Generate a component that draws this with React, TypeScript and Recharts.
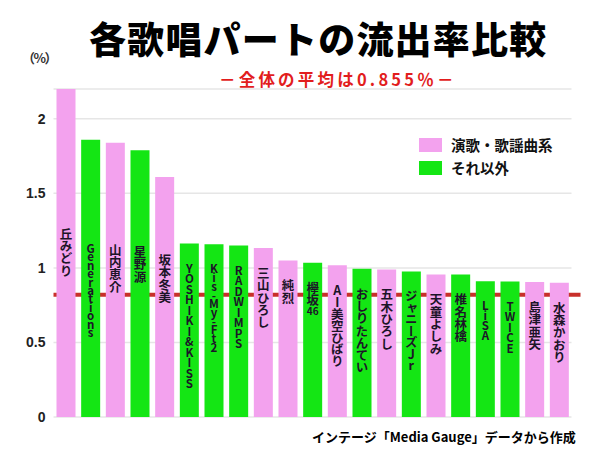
import React from 'react';
import { BarChart, Bar, XAxis, YAxis, CartesianGrid, ReferenceLine, Cell, LabelList } from 'recharts';

const artists = ['丘みどり', 'Generations', '山内恵介', '星野源', '坂本冬美', 'YOSHIKI&KISS', 'Kis-My-Ft2', 'RADWIMPS', '三山ひろし', '純烈', '欅坂46', 'AI美空ひばり', 'おしりたんてい', '五木ひろし', 'ジャニーズJr', '天童よしみ', '椎名林檎', 'LiSA', 'TWICE', '島津亜矢', '水森かおり'];
const rates = [2.2, 1.86, 1.84, 1.79, 1.61, 1.163, 1.158, 1.15, 1.133, 1.05, 1.035, 1.017, 0.995, 0.99, 0.976, 0.956, 0.956, 0.911, 0.909, 0.905, 0.9];
const genres = ['enka', 'other', 'enka', 'other', 'enka', 'other', 'other', 'other', 'enka', 'enka', 'other', 'enka', 'other', 'enka', 'other', 'enka', 'other', 'other', 'other', 'enka', 'enka'];
const yTicks = [0, 0.5, 1, 1.5, 2];
const averageLineValue = 0.82;
const legendKeys = ['enka', 'other'];
const legendLabels = ['演歌・歌謡曲系', 'それ以外'];
const titleText = '各歌唱パートの流出率比較';
const subtitleText = '－全体の平均は0.855％－';
const unitText = '（%）';
const sourceText = 'インテージ「Media Gauge」データから作成';

const COLORS: Record<string, string> = { enka: '#f3a2ee', other: '#14e614' };
const FONT = '"Noto Sans CJK JP", "Noto Sans", sans-serif';

const data = artists.map((name, i) => ({ name, rate: rates[i], genre: genres[i] }));

function stepFor(c: string): number {
  if (c === '-') return 6;
  if (/^[A-Z&0-9]$/.test(c)) return 10.5;
  if (/^[a-z]$/.test(c)) return 8.2;
  return 12.3;
}

// split trailing multi-digit groups (shown horizontally, tate-chu-yoko style)
function splitLabel(s: string): { main: string; tail: string } {
  const m = s.match(/^(.*?)([0-9]{2,})$/);
  if (m && /[^\x00-\x7f]/.test(m[1])) return { main: m[1], tail: m[2] };
  return { main: s, tail: '' };
}

const VerticalLabel = (props: any) => {
  const { x, y, width, index } = props;
  const v = rates[index];
  const name = artists[index];
  const barTop = Number(y);
  const bottom = 417;
  const pxPerUnit = (bottom - barTop) / v;
  const top = v > 1.3 ? bottom - (1.27 - (2.2 - v) * 0.3) * pxPerUnit : barTop + 19;
  const cx = Number(x) + Number(width) / 2;
  const { main, tail } = splitLabel(name);
  const chars = Array.from(main);
  const avgStep = chars.reduce((s, c) => s + stepFor(c), 0) / chars.length;
  const ascii = /^[\x00-\x7f]+$/.test(main);
  const fontSize = ascii ? 11.5 : 12.5;
  const letterSpacing = avgStep - fontSize;
  const mainLen = chars.reduce((s, c) => s + stepFor(c), 0);
  return (
    <g>
      <text
        x={cx}
        y={top}
        fontFamily={FONT}
        fontWeight={700}
        fontSize={fontSize}
        fill="#1c1428"
        style={{ writingMode: 'vertical-rl', textOrientation: 'upright', letterSpacing: `${letterSpacing}px` } as any}
      >
        {main}
      </text>
      {tail ? (
        <text
          x={cx}
          y={top + mainLen + 9}
          textAnchor="middle"
          fontFamily={FONT}
          fontWeight={700}
          fontSize={10}
          fill="#1c1428"
        >
          {tail}
        </text>
      ) : null}
    </g>
  );
};

const RefShape = (props: any) => {
  const { x1, x2, y1 } = props;
  return <line x1={x1} x2={Number(x2) + 9} y1={y1} y2={y1} stroke="#c8302a" strokeWidth={4} />;
};

export default function App() {
  return (
    <div style={{ position: 'absolute', left: 0, top: 0, width: 613, height: 461, background: '#fff', overflow: 'hidden' }}>
      <BarChart
        width={613}
        height={461}
        data={data}
        margin={{ top: 89, right: 41.5, bottom: 44, left: 8.5 }}
        barSize={19}
      >
        <CartesianGrid vertical={false} stroke="#e6e6e6" strokeWidth={1.5} />
        <XAxis dataKey="name" hide />
        <YAxis
          domain={[0, 2.2]}
          ticks={yTicks}
          width={45}
          axisLine={false}
          tickLine={false}
          tick={{ fill: '#222', fontSize: 14, fontWeight: 700, fontFamily: 'Arial, "Liberation Sans", sans-serif' }}
          tickMargin={2}
        />
        <ReferenceLine y={averageLineValue} shape={RefShape} ifOverflow="visible" {...({ zIndex: 250 } as any)} />
        <Bar dataKey="rate" isAnimationActive={false}>
          {data.map((d, i) => (
            <Cell key={i} fill={COLORS[d.genre]} />
          ))}
          <LabelList dataKey="name" content={VerticalLabel} />
        </Bar>
      </BarChart>

      <div style={{ position: 'absolute', left: 22, top: 48, fontFamily: FONT, fontSize: 13, fontWeight: 700, color: '#333', whiteSpace: 'nowrap', letterSpacing: '-1.5px' }}>
        {unitText}
      </div>
      <div style={{ position: 'absolute', left: 89, top: 15, fontFamily: FONT, fontSize: 37, fontWeight: 900, color: '#000', whiteSpace: 'nowrap', lineHeight: '46px', letterSpacing: '1.2px' }}>
        {titleText}
      </div>
      <div style={{ position: 'absolute', left: 219, top: 68, fontFamily: FONT, fontSize: 16.5, fontWeight: 700, color: '#e21d1d', whiteSpace: 'nowrap', lineHeight: '22px', letterSpacing: '3.2px' }}>
        {subtitleText}
      </div>

      <div style={{ position: 'absolute', left: 410, top: 126, width: 160, height: 62, background: '#fff' }}>
        {legendKeys.map((k, i) => (
          <div key={k} style={{ position: 'absolute', left: 9, top: 11 + i * 23, display: 'flex', alignItems: 'center', whiteSpace: 'nowrap' }}>
            <div style={{ width: 23, height: 14, background: COLORS[k], marginRight: 9 }} />
            <span style={{ fontFamily: FONT, fontSize: 14.5, fontWeight: 700, color: '#111', lineHeight: '16px' }}>{legendLabels[i]}</span>
          </div>
        ))}
      </div>

      <div style={{ position: 'absolute', left: 312, top: 428, fontFamily: FONT, fontSize: 13, fontWeight: 700, color: '#000', whiteSpace: 'nowrap', lineHeight: '18px' }}>
        {sourceText}
      </div>
    </div>
  );
}
